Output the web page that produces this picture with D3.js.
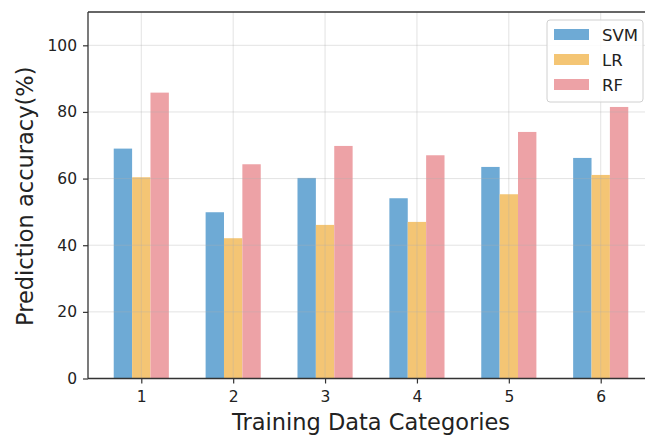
<!DOCTYPE html>
<html>
<head>
<meta charset="utf-8">
<script src="https://cdn.jsdelivr.net/npm/d3@7"></script>
<style>
  html, body { margin: 0; padding: 0; background: #fff; }
  svg { display: block; font-family: "DejaVu Sans", sans-serif; }
</style>
</head>
<body>
<svg id="chart" width="645" height="436"></svg>
<script>
// Training data categories and per-model prediction accuracy (%)
const categories = [1, 2, 3, 4, 5, 6];
const seriesNames = ["SVM", "LR", "RF"];
const svmValues = [69.0, 49.9, 60.2, 54.1, 63.5, 66.2];
const lrValues  = [60.4, 42.1, 46.1, 47.0, 55.3, 61.1];
const rfValues  = [85.8, 64.3, 69.8, 67.0, 74.0, 81.5];
const seriesColors = ["#6eaad5", "#f4c574", "#eda2a6"];
const yTicks = [0, 20, 40, 60, 80, 100];

const series = [svmValues, lrValues, rfValues];
const barWidth = 0.2; // in category units
const offsets = [-barWidth, 0, barWidth];

const svg = d3.select("#chart");
const plotLeft = 88, plotRight = 654, plotTop = 12, plotBottom = 378.5;

const x = d3.scaleLinear().domain([0.42, 6.58]).range([plotLeft, plotRight]);
const y = d3.scaleLinear().domain([0, 110]).range([plotBottom, plotTop]);

// Bars
series.forEach((vals, si) => {
  svg.append("g").selectAll("rect")
    .data(categories.map((c, i) => ({ c, v: vals[i] })))
    .join("rect")
    .attr("x", d => x(d.c + offsets[si] - barWidth / 2))
    .attr("width", d => x(d.c + barWidth / 2) - x(d.c - barWidth / 2))
    .attr("y", d => y(d.v))
    .attr("height", d => y(0) - y(d.v))
    .attr("fill", seriesColors[si]);
});

// Grid lines
const grid = svg.append("g").attr("stroke", "#b0b0b0").attr("stroke-opacity", 0.35).attr("stroke-width", 1);
grid.selectAll("line.h").data(yTicks.slice(1)).join("line")
  .attr("x1", plotLeft).attr("x2", plotRight)
  .attr("y1", d => y(d)).attr("y2", d => y(d));
grid.selectAll("line.v").data(categories).join("line")
  .attr("y1", plotTop).attr("y2", plotBottom)
  .attr("x1", d => x(d)).attr("x2", d => x(d));

// Axes
const yAxis = d3.axisLeft(y).tickValues(yTicks).tickFormat(d3.format("d")).tickSize(5).tickPadding(6);
const yg = svg.append("g").attr("transform", `translate(${plotLeft},0)`).call(yAxis);
const xAxis = d3.axisBottom(x).tickValues(categories).tickFormat(d3.format("d")).tickSize(5).tickPadding(7);
const xg = svg.append("g").attr("transform", `translate(0,${plotBottom})`).call(xAxis);
[yg, xg].forEach(g => {
  g.select(".domain").remove();
  g.selectAll(".tick line").attr("stroke", "#333").attr("stroke-width", 1.2);
  g.selectAll(".tick text").attr("fill", "#222").attr("font-size", 15.5)
    .attr("font-family", "DejaVu Sans, sans-serif");
});

// Spines
const spine = svg.append("g").attr("stroke", "#333").attr("stroke-width", 1.3).attr("fill", "none");
spine.append("line").attr("x1", plotLeft).attr("x2", plotLeft).attr("y1", plotTop).attr("y2", plotBottom);
spine.append("line").attr("x1", plotLeft).attr("x2", plotRight).attr("y1", plotBottom).attr("y2", plotBottom);
spine.append("line").attr("x1", plotLeft).attr("x2", plotRight).attr("y1", plotTop).attr("y2", plotTop);
spine.append("line").attr("x1", plotRight).attr("x2", plotRight).attr("y1", plotTop).attr("y2", plotBottom);

// Axis labels
svg.append("text")
  .attr("x", (plotLeft + plotRight) / 2).attr("y", 430)
  .attr("text-anchor", "middle").attr("font-size", 22.5).attr("fill", "#222")
  .text("Training Data Categories");
svg.append("text")
  .attr("transform", `translate(33,${(plotTop + plotBottom) / 2 + 1}) rotate(-90)`)
  .attr("text-anchor", "middle").attr("font-size", 22.5).attr("fill", "#222")
  .text("Prediction accuracy(%)");

// Legend
const lg = svg.append("g").attr("transform", "translate(547,20)");
lg.append("rect").attr("width", 96).attr("height", 82).attr("rx", 3)
  .attr("fill", "#fff").attr("fill-opacity", 0.85)
  .attr("stroke", "#d0d0d0").attr("stroke-width", 1);
seriesNames.forEach((name, i) => {
  const row = lg.append("g").attr("transform", `translate(0,${14 + i * 25})`);
  row.append("rect").attr("x", 7).attr("y", -5).attr("width", 35).attr("height", 11)
    .attr("fill", seriesColors[i]);
  row.append("text").attr("x", 55).attr("y", 6.5)
    .attr("font-size", 16.5).attr("fill", "#222").text(name);
});
</script>
</body>
</html>
